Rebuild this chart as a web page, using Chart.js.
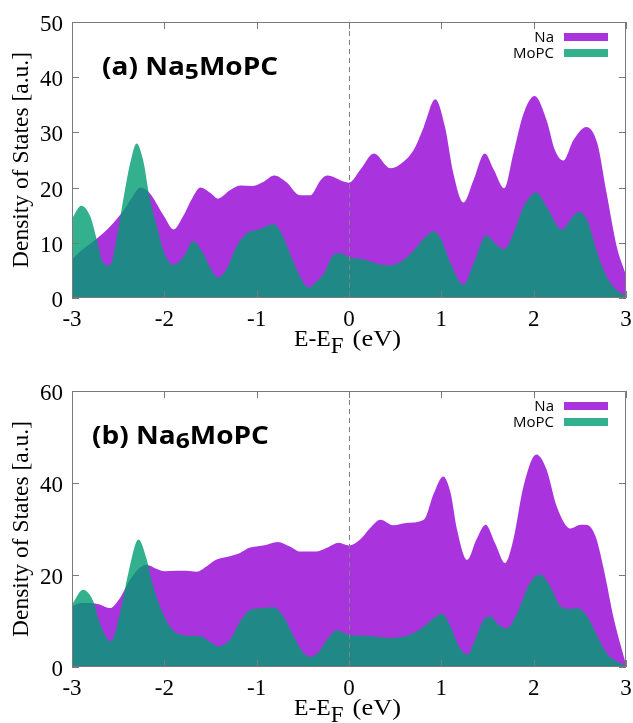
<!DOCTYPE html>
<html>
<head>
<meta charset="utf-8">
<script src="https://cdn.jsdelivr.net/npm/chart.js@4.4.1/dist/chart.umd.min.js"></script>
<style>
  body { margin: 0; background: #fff; }
  canvas { position: absolute; left: 0; }
  #dosA { top: 0; }
  #dosB { top: 360px; }
</style>
</head>
<body>
<canvas id="dosA" width="633" height="360"></canvas>
<canvas id="dosB" width="633" height="363"></canvas>
<script>
// energy ticks shared by both panels
const energyTicks = [-3, -2, -1, 0, 1, 2, 3]

// panel (a) Na5MoPC
const energyNaA = [-3, -2.9, -2.73, -2.59, -2.44, -2.34, -2.26, -2.16, -2.0, -1.9,
  -1.8, -1.69, -1.61, -1.5, -1.42, -1.29, -1.18, -1.04, -0.93, -0.81,
  -0.68, -0.53, -0.42, -0.31, -0.24, 0, 0.12, 0.27, 0.45, 0.59,
  0.70, 0.81, 0.935, 1.04, 1.13, 1.24, 1.35, 1.47, 1.57, 1.68,
  1.78, 1.89, 2.01, 2.14, 2.23, 2.32, 2.43, 2.57, 2.69, 2.79,
  2.90, 3.0]
const dosNaA = [7.0, 8.6, 10.8, 12.9, 15.9, 18.5, 20.0, 19.0, 14.7, 12.4,
  14.7, 18.3, 20.0, 19.0, 18.0, 19.5, 20.4, 20.3, 21.0, 22.2,
  21.0, 18.6, 18.6, 21.3, 22.2, 20.9, 23.2, 26.2, 23.5, 24.7,
  26.8, 31.0, 36.0, 31.0, 22.6, 17.3, 21.4, 26.2, 23.2, 19.9,
  26.2, 33.4, 36.6, 32.2, 26.8, 24.9, 28.6, 31.0, 28.0, 19.0,
  9.3, 4.2]
const energyMoA = [-3, -2.9, -2.8, -2.73, -2.66, -2.59, -2.52, -2.44, -2.37, -2.30,
  -2.23, -2.16, -2.08, -2.0, -1.9, -1.79, -1.69, -1.58, -1.5, -1.42,
  -1.33, -1.22, -1.11, -1.0, -0.89, -0.82, -0.73, -0.64, -0.53, -0.44,
  -0.35, -0.27, -0.17, -0.09, 0, 0.16, 0.30, 0.45, 0.59, 0.70,
  0.81, 0.92, 1.0, 1.10, 1.24, 1.35, 1.49, 1.58, 1.68, 1.78,
  1.89, 2.03, 2.14, 2.31, 2.42, 2.49, 2.58, 2.69, 2.79, 2.90,
  3.0]
const dosMoA = [14.4, 16.7, 14.7, 10.5, 6.3, 5.9, 10.5, 18.3, 24.4, 28.0,
  25.0, 18.3, 12.9, 8.1, 6.0, 7.5, 10.3, 8.1, 5.4, 3.7,
  5.1, 9.3, 11.7, 12.3, 13.0, 13.4, 11.7, 8.1, 3.9, 1.9,
  3.0, 4.5, 7.8, 8.1, 7.4, 7.0, 6.2, 5.9, 6.9, 8.6,
  10.8, 12.1, 10.5, 6.3, 2.4, 6.3, 11.3, 9.9, 8.8, 11.7,
  16.5, 19.1, 16.5, 12.4, 14.7, 15.6, 14.1, 8.1, 3.9, 1.4,
  0.4]

// panel (b) Na6MoPC
const energyNaB = [-3, -2.9, -2.8, -2.7, -2.59, -2.48, -2.37, -2.26, -2.19, -2.08,
  -2.0, -1.87, -1.76, -1.65, -1.54, -1.44, -1.29, -1.18, -1.08, -0.93,
  -0.77, -0.64, -0.53, -0.35, -0.24, -0.11, 0, 0.12, 0.23, 0.34,
  0.48, 0.62, 0.81, 0.92, 1.02, 1.10, 1.17, 1.28, 1.38, 1.48,
  1.58, 1.69, 1.78, 1.89, 2.03, 2.14, 2.25, 2.40, 2.51, 2.57,
  2.67, 2.76, 2.87, 3.0]
const dosNaB = [13.2, 13.9, 13.9, 13.6, 12.8, 15.0, 19.0, 21.7, 22.2, 21.3,
  20.8, 20.9, 20.9, 20.7, 21.9, 23.3, 24.1, 24.8, 25.9, 26.4,
  27.2, 26.2, 25.1, 25.1, 25.9, 27.0, 26.4, 27.7, 30.2, 32.0,
  30.8, 31.3, 32.0, 37.8, 41.4, 37.8, 29.9, 23.3, 27.7, 30.9,
  27.0, 22.6, 27.7, 39.3, 46.2, 42.9, 34.9, 30.1, 30.9, 30.9,
  28.4, 21.2, 10.3, 0.5]
const energyMoB = [-3, -2.88, -2.77, -2.70, -2.58, -2.48, -2.39, -2.28, -2.19, -2.12,
  -2.0, -1.87, -1.72, -1.61, -1.5, -1.42, -1.29, -1.18, -1.08, -0.93,
  -0.82, -0.71, -0.60, -0.49, -0.42, -0.33, -0.24, -0.13, 0, 0.19,
  0.45, 0.66, 0.81, 0.94, 1.01, 1.10, 1.19, 1.28, 1.38, 1.46,
  1.53, 1.62, 1.71, 1.82, 1.96, 2.07, 2.18, 2.29, 2.40, 2.47,
  2.58, 2.69, 2.79, 2.90, 3.0]
const dosMoB = [13.6, 16.8, 14.3, 9.6, 5.6, 11.7, 20.4, 27.7, 23.3, 17.5,
  11.0, 7.4, 6.8, 6.7, 5.4, 4.5, 5.9, 9.9, 12.3, 12.8,
  13.0, 11.0, 6.7, 3.0, 2.2, 3.2, 5.9, 8.0, 7.0, 6.8,
  6.3, 7.0, 8.8, 11.0, 11.6, 8.8, 4.5, 2.7, 6.7, 10.3,
  11.0, 9.2, 8.4, 11.7, 18.3, 20.1, 17.5, 13.2, 12.6, 12.8,
  11.0, 6.7, 3.0, 1.2, 0.3]

const seriesNames = ["Na", "MoPC"]
const seriesColors = ["rgba(148, 0, 211, 0.8)", "rgba(0, 158, 115, 0.8)"]

const frameColor = "#7a7a7a"
const serif = "'Liberation Serif', 'Times New Roman', serif"
const sans = "'Open Sans', 'Noto Sans', sans-serif"

// plot box is 554 x 276 px in both panels
const boxHeight = 276

const toPoints = (xs, ys) => xs.map((e, i) => ({ x: e, y: ys[i] }))

// draws text squeezed/stretched sideways, returns advance
function wideText(ctx, text, x, y, sx) {
  ctx.save()
  ctx.translate(x, y)
  ctx.scale(sx, 1)
  ctx.fillText(text, 0, 0)
  const w = ctx.measureText(text).width * sx
  ctx.restore()
  return w
}

// frame, inward ticks, E_F line, key, panel label and x title (gnuplot look)
const gnuplotDecor = {
  id: "gnuplotDecor",
  afterDatasetsDraw(chart, args, opts) {
    const { ctx, chartArea: a, scales } = chart
    const xs = scales.x, ys = scales.y
    ctx.save()

    ctx.strokeStyle = "#808080"
    ctx.lineWidth = 1
    ctx.setLineDash([5, 4])
    const x0 = Math.round(xs.getPixelForValue(0)) + 0.5
    ctx.beginPath()
    ctx.moveTo(x0, a.top)
    ctx.lineTo(x0, a.bottom)
    ctx.stroke()
    ctx.setLineDash([])

    ctx.strokeStyle = frameColor
    ctx.strokeRect(Math.round(a.left) + 0.5, Math.round(a.top) + 0.5,
      Math.round(a.right - a.left) - 1, Math.round(a.bottom - a.top) - 1)
    ctx.beginPath()
    xs.ticks.forEach(t => {
      const px = Math.round(xs.getPixelForValue(t.value)) + 0.5
      ctx.moveTo(px, a.top); ctx.lineTo(px, a.top + 7)
      ctx.moveTo(px, a.bottom); ctx.lineTo(px, a.bottom - 7)
    })
    ys.ticks.forEach(t => {
      const py = Math.round(ys.getPixelForValue(t.value)) + 0.5
      ctx.moveTo(a.left, py); ctx.lineTo(a.left + 7, py)
      ctx.moveTo(a.right, py); ctx.lineTo(a.right - 7, py)
    })
    ctx.stroke()

    // key
    ctx.font = "15px " + sans
    ctx.textAlign = "right"
    ctx.textBaseline = "alphabetic"
    chart.data.datasets.forEach((ds, i) => {
      const top = a.top + 11 + i * 16
      ctx.fillStyle = "#000"
      ctx.fillText(ds.label, a.right - 72, top + 9)
      ctx.fillStyle = ds.backgroundColor
      ctx.fillRect(a.right - 62, top, 44, 8)
    })

    // panel label with subscript
    ctx.fillStyle = "#000"
    ctx.textAlign = "left"
    let tx = opts.labelX
    const ty = a.top + 52.5
    opts.label.forEach(part => {
      ctx.font = part.sub ? "bold 22px " + sans : "bold 25px " + sans
      tx += wideText(ctx, part.text, tx, ty + (part.sub ? 4.5 : 0), 1.12)
    })

    // x title E-E_F (eV)
    ctx.font = "23px " + serif
    const by = a.bottom + 48
    let cx = (a.left + a.right) / 2 - 55
    cx += wideText(ctx, "E-E", cx, by, 1.03)
    cx += wideText(ctx, "F", cx, by + 7, 1)
    wideText(ctx, "(eV)", cx + 9, by, 1.15)
    ctx.restore()
  }
}

function makePanel(id, naX, naY, moX, moY, yMax, yStep, label, labelX, top, height) {
  const ctx = document.getElementById(id).getContext("2d")
  return new Chart(ctx, {
    type: "line",
    data: {
      datasets: [
        {
          label: seriesNames[0],
          data: toPoints(naX, naY),
          backgroundColor: seriesColors[0],
          borderWidth: 0,
          pointRadius: 0,
          fill: "origin",
          cubicInterpolationMode: "monotone",
          order: 2
        },
        {
          label: seriesNames[1],
          data: toPoints(moX, moY),
          backgroundColor: seriesColors[1],
          borderWidth: 0,
          pointRadius: 0,
          fill: "origin",
          cubicInterpolationMode: "monotone",
          order: 1
        }
      ]
    },
    options: {
      responsive: false,
      animation: false,
      layout: { padding: { top: top, right: 7, left: 0, bottom: 0 } },
      plugins: {
        legend: { display: false },
        tooltip: { enabled: false },
        gnuplotDecor: { label: label, labelX: labelX }
      },
      scales: {
        x: {
          type: "linear",
          min: energyTicks[0],
          max: energyTicks[energyTicks.length - 1],
          afterBuildTicks: (scale) => { scale.ticks = energyTicks.map(v => ({ value: v })) },
          grid: { display: false, drawTicks: false },
          border: { display: false },
          ticks: { color: "#000", padding: 8, maxRotation: 0, font: { family: serif, size: 23 } },
          afterFit: (scale) => {
            scale.height = height - top - boxHeight
            scale.paddingLeft = 0
            scale.paddingRight = 0
          }
        },
        y: {
          min: 0,
          max: yMax,
          grid: { display: false, drawTicks: false },
          border: { display: false },
          ticks: { stepSize: yStep, color: "#000", padding: 9, labelOffset: 3, font: { family: serif, size: 23 } },
          title: {
            display: true,
            text: "Density of States [a.u.]",
            color: "#000",
            font: { family: serif, size: 23.5 },
            padding: { top: 8, bottom: 0 }
          },
          afterFit: (scale) => {
            scale.width = 72
            scale.paddingTop = 0
            scale.paddingBottom = 0
          }
        }
      }
    },
    plugins: [gnuplotDecor]
  })
}

makePanel("dosA", energyNaA, dosNaA, energyMoA, dosMoA, 50, 10,
  [{ text: "(a) Na" }, { text: "5", sub: true }, { text: "MoPC" }], 102, 22, 360)
makePanel("dosB", energyNaB, dosNaB, energyMoB, dosMoB, 60, 20,
  [{ text: "(b) Na" }, { text: "6", sub: true }, { text: "MoPC" }], 92, 31, 363)
</script>
</body>
</html>
